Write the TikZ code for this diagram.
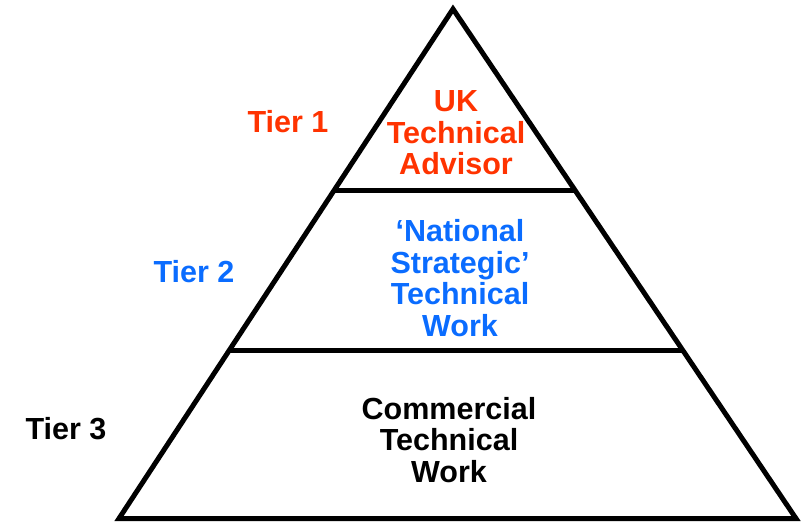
\documentclass[tikz,border=0pt]{standalone}
\usepackage{fontspec}
\setmainfont{Liberation Sans}
\usetikzlibrary{calc}
\definecolor{tierred}{HTML}{FF3300}
\definecolor{tierblue}{HTML}{0A6CFF}
\tikzset{
  edge/.style={line width=5pt, black},
  lbl/.style={font=\fontsize{30.5}{31.5}\selectfont\bfseries, align=center, inner sep=0pt, anchor=center},
}
\begin{document}
\begin{tikzpicture}[x=1pt,y=-1pt]
\useasboundingbox (0,0) rectangle (802,522);
\coordinate (apex) at (453,9);
\coordinate (bl) at (119,518.5);
\coordinate (br) at (796,518.5);
\coordinate (l1) at ($(apex)!0.3572!(bl)$);
\coordinate (r1) at ($(apex)!0.3572!(br)$);
\coordinate (l2) at ($(apex)!0.6693!(bl)$);
\coordinate (r2) at ($(apex)!0.6693!(br)$);
\draw[edge, line join=miter] (apex) -- (br) -- (bl) -- cycle;
\draw[edge] (l1) -- (r1);
\draw[edge] (l2) -- (r2);
\node[lbl, text=tierred] (t1) at (288,122) {Tier 1};
\node[lbl, text=tierblue] (t2) at (194,272) {Tier 2};
\node[lbl] (t3) at (66,429) {Tier 3};
\node[lbl, text=tierred] (c1) at (456,133) {UK\\Technical\\Advisor};
\node[lbl, text=tierblue] (c2) at (460,278) {‘National\\Strategic’\\Technical\\Work};
\node[lbl] (c3) at (449,440) {Commercial\\Technical\\Work};
\end{tikzpicture}
\end{document}
